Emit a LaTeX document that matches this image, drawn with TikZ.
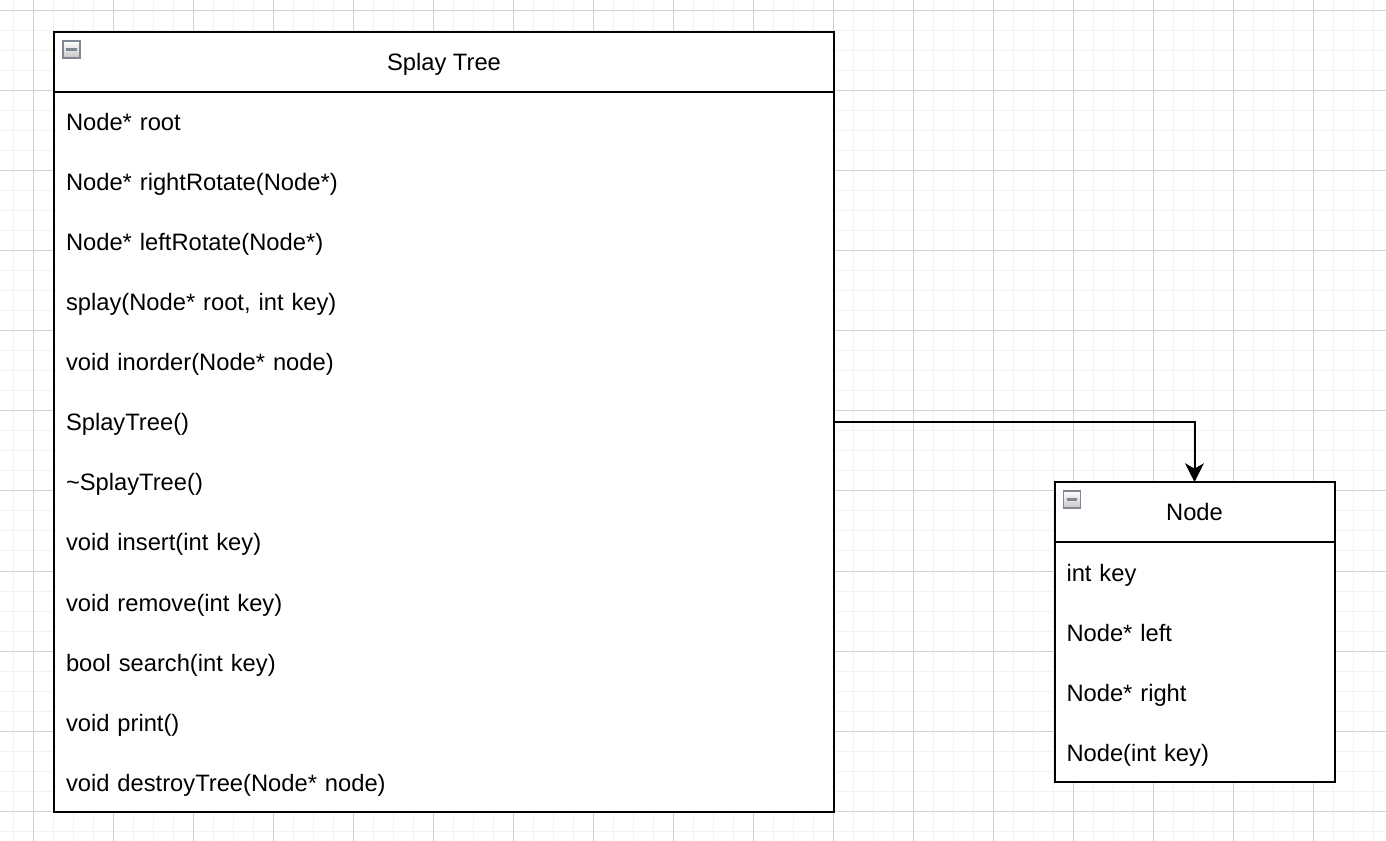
\documentclass[tikz,border=0pt]{standalone}
\usepackage{fontspec}
\setmainfont{Liberation Sans}
\usetikzlibrary{positioning,arrows.meta,backgrounds}

\definecolor{gridminor}{RGB}{242,242,242}
\definecolor{gridmajor}{RGB}{210,210,210}
\definecolor{iconedge}{RGB}{128,134,148}

\tikzset{
  classline/.style={draw=black, line width=1.5pt},
  classhead/.style={classline, fill=white, minimum height=45pt, inner sep=0pt, outer sep=0pt,
    text height=15.75pt, text depth=2.25pt, font=\fontsize{17.8}{21}\selectfont},
  member/.style={text width=#1, align=left, minimum height=45pt, inner xsep=9pt, inner ysep=0pt,
    outer sep=0pt, text height=15.75pt, text depth=2.25pt, font=\fontsize{17.8}{21}\selectfont},
  minusbox/.style={draw=iconedge, line width=1.1pt, top color=white, bottom color=gray!45,
    minimum size=12.75pt, inner sep=0pt, outer sep=0pt,
    path picture={\draw[line width=1.7pt] ([xshift=2.4pt]path picture bounding box.west)
      -- ([xshift=-2.4pt]path picture bounding box.east);}},
  connector/.style={line width=1.5pt, -{Stealth[length=14pt, width=14pt, inset=4pt]}}
}

\begin{document}
\begin{tikzpicture}[x=0.75pt,y=-0.75pt]
\useasboundingbox (0,0) rectangle (1386,841);

% grid
\begin{pgfonlayer}{background}
\fill[white] (0,0) rectangle (1386,841);
\foreach \gx in {13,33,...,1373} \draw[gridminor, line width=0.75pt] (\gx,0) -- (\gx,841);
\foreach \gy in {11,31,...,831} \draw[gridminor, line width=0.75pt] (0,\gy) -- (1386,\gy);
\foreach \gx in {33,113,...,1313} \draw[gridmajor, line width=0.75pt] (\gx,0) -- (\gx,841);
\foreach \gy in {11,91,...,811} \draw[gridmajor, line width=0.75pt] (0,\gy) -- (1386,\gy);
\end{pgfonlayer}

% Splay Tree class
\node[classhead, minimum width=585pt] (st) at (444,62) {Splay Tree};
\node[minusbox, below right=6.75pt and 6.75pt of st.north west] (sticon) {};
\node[member=567pt, below=0pt of st] (st1) {Node* root};
\node[member=567pt, below=0pt of st1] (st2) {Node* rightRotate(Node*)};
\node[member=567pt, below=0pt of st2] (st3) {Node* leftRotate(Node*)};
\node[member=567pt, below=0pt of st3] (st4) {splay(Node* root, int key)};
\node[member=567pt, below=0pt of st4] (st5) {void inorder(Node* node)};
\node[member=567pt, below=0pt of st5] (st6) {SplayTree()};
\node[member=567pt, below=0pt of st6] (st7) {\textasciitilde SplayTree()};
\node[member=567pt, below=0pt of st7] (st8) {void insert(int key)};
\node[member=567pt, below=0pt of st8] (st9) {void remove(int key)};
\node[member=567pt, below=0pt of st9] (st10) {bool search(int key)};
\node[member=567pt, below=0pt of st10] (st11) {void print()};
\node[member=567pt, below=0pt of st11] (st12) {void destroyTree(Node* node)};

% Node class
\node[classhead, minimum width=210pt] (nd) at (1194.5,512) {Node};
\node[minusbox, below right=6.75pt and 6.75pt of nd.north west] (ndicon) {};
\node[member=192pt, below=0pt of nd] (nd1) {int key};
\node[member=192pt, below=0pt of nd1] (nd2) {Node* left};
\node[member=192pt, below=0pt of nd2] (nd3) {Node* right};
\node[member=192pt, below=0pt of nd3] (nd4) {Node(int key)};

\begin{pgfonlayer}{background}
\draw[classline, fill=white] (st.south west) rectangle (st12.south east);
\draw[classline, fill=white] (nd.south west) rectangle (nd4.south east);
\end{pgfonlayer}

\draw[connector] (st6.east) -| (nd.north);
\end{tikzpicture}
\end{document}
